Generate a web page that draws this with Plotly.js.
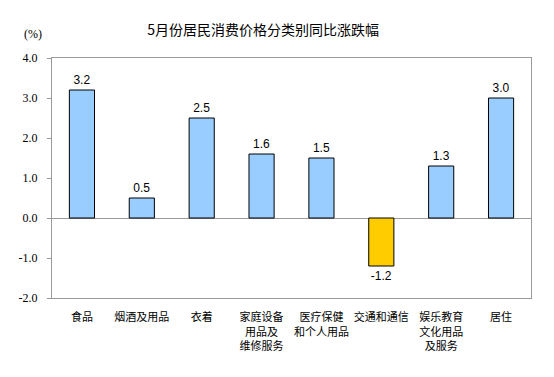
<!DOCTYPE html>
<html><head><meta charset="utf-8">
<script src="https://cdn.plot.ly/plotly-3.0.1.min.js"></script>
<style>body{margin:0;background:#fff}#c{width:554px;height:377px}</style>
</head><body><div id="c"></div>
<script>
const categories = ["食品","烟酒及用品","衣着","家庭设备<br>用品及<br>维修服务","医疗保健<br>和个人用品","交通和通信","娱乐教育<br>文化用品<br>及服务","居住"];
const values = [3.2, 0.5, 2.5, 1.6, 1.5, -1.2, 1.3, 3.0];
const yTicks = [-2, -1, 0, 1, 2, 3, 4];
const yTickLabels = ["-2.0","-1.0","0.0","1.0","2.0","3.0","4.0"];

const colors = values.map(v => v < 0 ? "#FFCC00" : "#99CCFF");
const trace = {
  type: "bar",
  x: categories.map((c,i)=>i),
  y: values,
  width: 0.42,
  marker: {color: colors, line: {color: "#000", width: 1}},
  text: values.map(v => v.toFixed(1)),
  textposition: "outside",
  textfont: {family: "Liberation Sans, Arial", size: 12, color: "#000"},
  cliponaxis: false,
  hoverinfo: "none"
};
const layout = {
  width: 554, height: 377,
  margin: {l: 52, r: 23, t: 58, b: 79},
  paper_bgcolor: "#fff", plot_bgcolor: "#fff",
  showlegend: false,
  font: {family: "Noto Sans CJK SC", size: 11, color: "#000"},
  xaxis: {
    range: [-0.5, 7.5], tickvals: categories.map((c,i)=>i), ticktext: categories,
    showgrid: false, zeroline: false, showline: true, mirror: true, linecolor: "#999", linewidth: 1,
    ticks: "", tickfont: {family: "Noto Sans CJK SC", size: 11, color: "#000"}, ticklabelstandoff: 9
  },
  yaxis: {
    range: [-2, 4], tickvals: yTicks, ticktext: yTickLabels,
    showgrid: false, zeroline: true, zerolinecolor: "#999", zerolinewidth: 1,
    showline: true, mirror: true, linecolor: "#999", linewidth: 1,
    ticks: "outside", ticklen: 4, tickcolor: "#999", ticklabelstandoff: 7,
    tickfont: {family: "Liberation Serif", size: 12, color: "#000"}
  },
  title: {text: "5月份居民消费价格分类别同比涨跌幅", x: 0.475, xanchor: "center", y: 0.92, yanchor: "middle",
    font: {family: "Noto Sans CJK SC", size: 14, color: "#000"}},
  annotations: [{text: "(%)", xref: "paper", yref: "paper", x: -0.04, y: 1.1, xanchor: "center", yanchor: "middle",
    showarrow: false, font: {family: "Liberation Serif", size: 12, color: "#000"}}],
  bargap: 0.5
};
Plotly.newPlot("c", [trace], layout, {staticPlot: true, displayModeBar: false});
</script></body></html>
